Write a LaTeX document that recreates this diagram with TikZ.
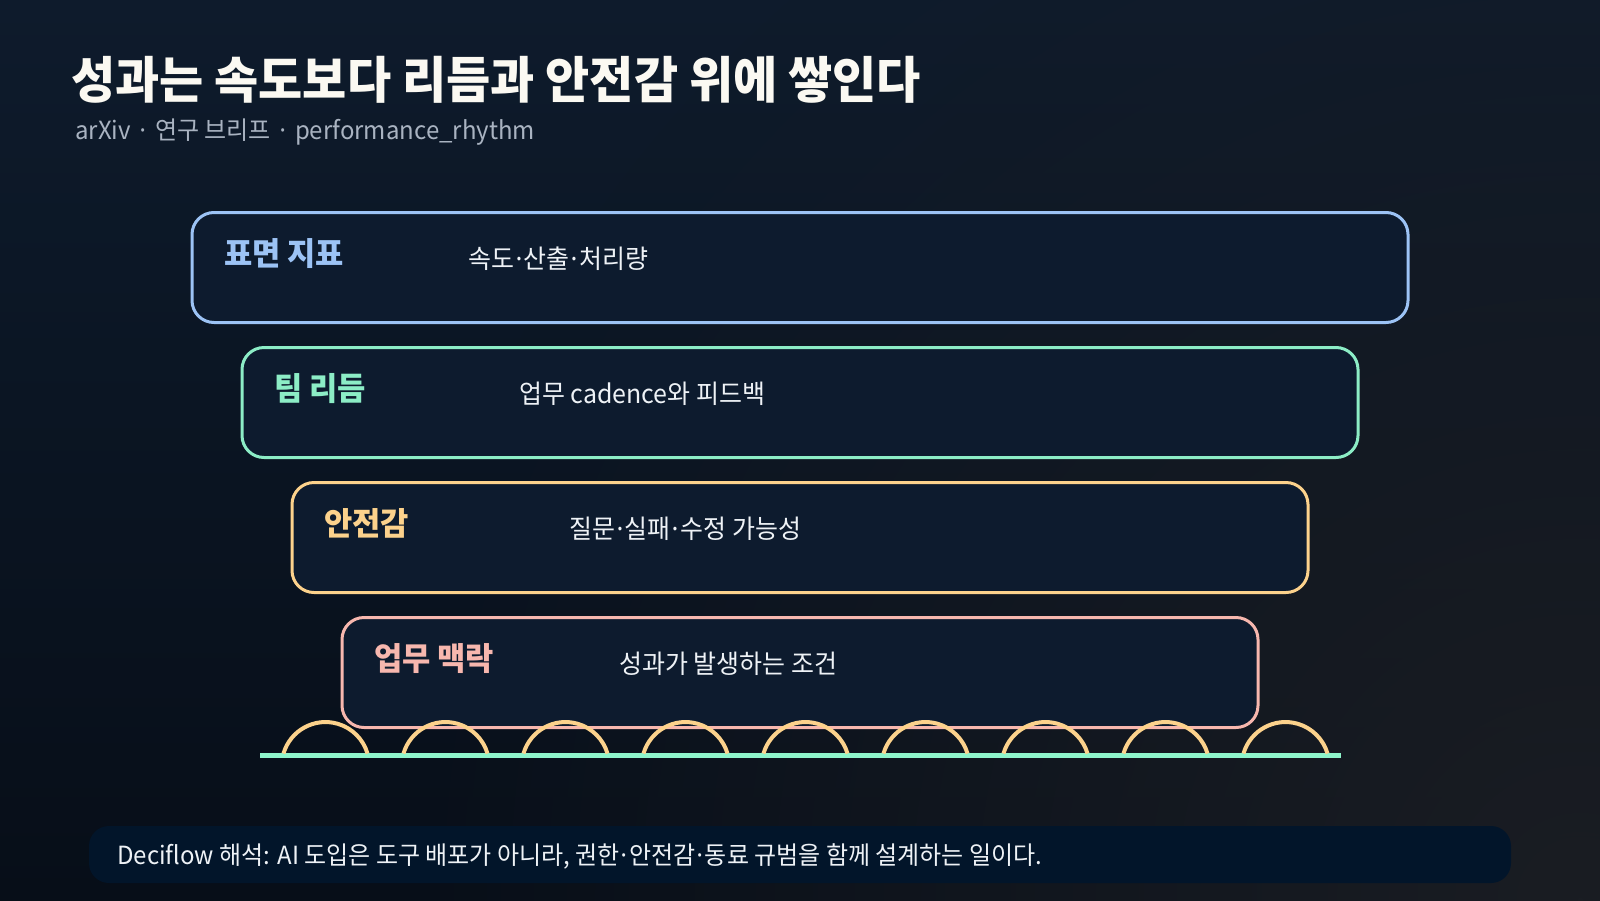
\documentclass[tikz,border=0pt]{standalone}
\usepackage{fontspec}
\usetikzlibrary{fadings}
\setmainfont{Noto Sans CJK KR}[FakeStretch=0.96]
\definecolor{bgtop}{HTML}{0E1B2C}
\definecolor{bgdeep}{HTML}{070E18}
\definecolor{bgglow}{HTML}{1A1D23}
\definecolor{boxfill}{HTML}{0D1B2E}
\definecolor{surfblue}{HTML}{9CC3F5}
\definecolor{rhythmgreen}{HTML}{8CEDC6}
\definecolor{safeamber}{HTML}{FCD28C}
\definecolor{contextpink}{HTML}{F7B7AE}
\definecolor{basegreen}{HTML}{8EF5CB}
\definecolor{notefill}{HTML}{02152A}
\definecolor{subgray}{HTML}{A9B3C1}
\definecolor{bodywhite}{HTML}{EEF2F6}
\definecolor{titlewhite}{HTML}{FBF9F2}
\newcommand{\middot}{\kern-0.08em·\kern-0.08em}
\tikzfading[name=glowfade, inner color=transparent!0, outer color=transparent!100]
\begin{document}
\begin{tikzpicture}[x=1pt, y=-1pt,
    layer/.style={draw, line width=3pt, rounded corners=22pt, fill=boxfill, minimum height=110pt, inner sep=0pt},
    tag/.style={anchor=base west, inner sep=0pt, font=\bfseries\fontsize{32}{34}\selectfont},
    desc/.style={anchor=base west, inner sep=0pt, text=bodywhite, font=\fontsize{26}{28}\selectfont},
    hump/.style={draw=safeamber, line width=4pt}]
          \shade[top color=bgtop, bottom color=bgdeep] (0, 0) rectangle (1600, 900);
          \begin{scope}
            \clip (0, 0) rectangle (1600, 900);
            \fill[bgglow, path fading=glowfade] (1580, 900) circle (1200);
          \end{scope}
          \useasboundingbox (0, 0) rectangle (1600, 900);
          \node[anchor=base west, inner sep=0pt, text=titlewhite, font=\bfseries\fontsize{50}{52}\selectfont] (title) at (71, 98.5){성과는 속도보다 리듬과 안전감 위에 쌓인다};
          \node[anchor=base west, inner sep=0pt, text=subgray, font=\fontsize{25}{27}\selectfont] (subtitle) at (75, 139){arXiv · 연구 브리프 · performance\_rhythm};
          % layers, top to bottom
          \node[layer, draw=surfblue, minimum width=1216pt] (surface) at (800, 267.5){};
          \node[tag, text=surfblue] (surfacetag) at (224, 265.5){표면 지표};
          \node[desc] (surfacedesc) at (468, 268){속도\middot 산출\middot 처리량};
          \node[layer, draw=rhythmgreen, minimum width=1116pt] (rhythm) at (800, 402.5){};
          \node[tag, text=rhythmgreen] (rhythmtag) at (274, 400.5){팀 리듬};
          \node[desc] (rhythmdesc) at (519, 403){업무 cadence와 피드백};
          \node[layer, draw=safeamber, minimum width=1016pt] (safety) at (800, 537.5){};
          \node[tag, text=safeamber] (safetytag) at (324, 535.5){안전감};
          \node[desc] (safetydesc) at (569, 538){질문\middot 실패\middot 수정 가능성};
          \node[layer, draw=contextpink, minimum width=916pt] (context) at (800, 672.5){};
          \node[tag, text=contextpink] (contexttag) at (374, 670.5){업무 맥락};
          \node[desc] (contextdesc) at (619, 673){성과가 발생하는 조건};
          % base line and arcs
          \coordinate (baseL) at (260, 755);
          \coordinate (baseR) at (1341, 755);
          \draw[draw=basegreen, line width=5pt] (baseL) -- (baseR);
          \draw[hump] (283.5, 753.5) arc[start angle=196.3, end angle=343.7, radius=43.75];
          \draw[hump] (403.5, 753.5) arc[start angle=196.3, end angle=343.7, radius=43.75];
          \draw[hump] (523.5, 753.5) arc[start angle=196.3, end angle=343.7, radius=43.75];
          \draw[hump] (643.5, 753.5) arc[start angle=196.3, end angle=343.7, radius=43.75];
          \draw[hump] (763.5, 753.5) arc[start angle=196.3, end angle=343.7, radius=43.75];
          \draw[hump] (883.5, 753.5) arc[start angle=196.3, end angle=343.7, radius=43.75];
          \draw[hump] (1003.5, 753.5) arc[start angle=196.3, end angle=343.7, radius=43.75];
          \draw[hump] (1123.5, 753.5) arc[start angle=196.3, end angle=343.7, radius=43.75];
          \draw[hump] (1243.5, 753.5) arc[start angle=196.3, end angle=343.7, radius=43.75];
          % note bar
          \node[rounded corners=20pt, fill=notefill, minimum width=1422pt, minimum height=57pt, inner sep=0pt] (note) at (800, 854.5){};
          \node[desc, font=\fontsize{25}{27}\selectfont] (notetext) at (117, 864.5){Deciflow 해석: AI 도입은 도구 배포가 아니라, 권한\middot 안전감\middot 동료 규범을 함께 설계하는 일이다.};
       \end{tikzpicture}
\end{document}
